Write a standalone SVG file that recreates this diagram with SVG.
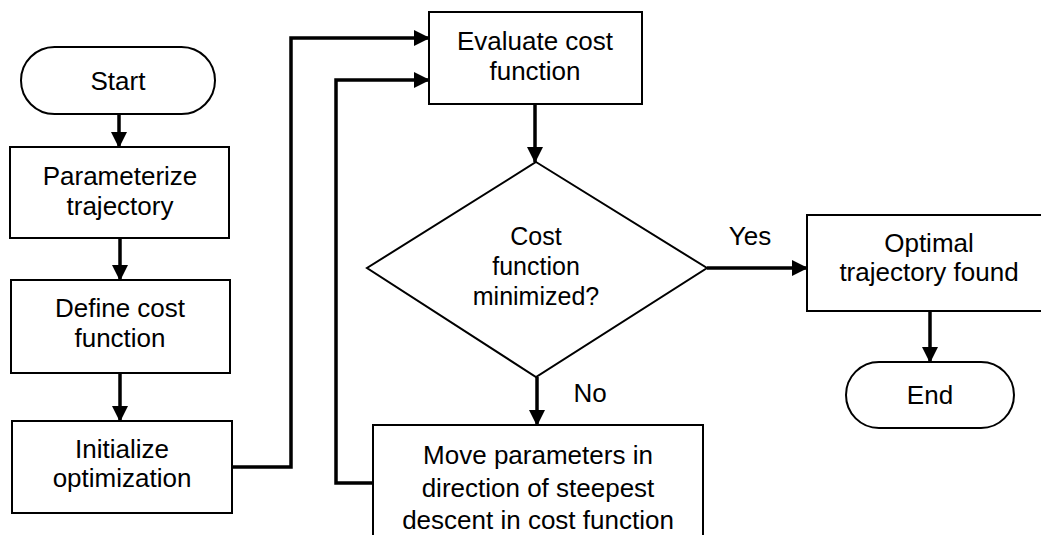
<svg xmlns="http://www.w3.org/2000/svg" width="1041" height="535" viewBox="0 0 1041 535">
<style>
.box{fill:#fff;stroke:#000;stroke-width:2}
.t{font-family:"Liberation Sans",Arial,sans-serif;font-size:26px;fill:#000;text-anchor:middle}
.c{fill:none;stroke:#000;stroke-width:3.5}
</style>
<defs>
<marker id="ah" markerUnits="userSpaceOnUse" markerWidth="16" markerHeight="16" viewBox="0 0 16 16" refX="15" refY="8" orient="auto">
<path d="M0,0 L16,8 L0,16 Z" fill="#000"/>
</marker>
</defs>
<rect width="1041" height="535" fill="#fff"/>
<g id="connectors">
<line class="c" x1="119" y1="114" x2="119" y2="147" marker-end="url(#ah)"/>
<line class="c" x1="120" y1="238" x2="120" y2="280" marker-end="url(#ah)"/>
<line class="c" x1="120" y1="373" x2="120" y2="421" marker-end="url(#ah)"/>
<polyline class="c" points="232,467 291,467 291,38 429,38" marker-end="url(#ah)"/>
<line class="c" x1="535" y1="104" x2="535" y2="162" marker-end="url(#ah)"/>
<line class="c" x1="707" y1="268" x2="807" y2="268" marker-end="url(#ah)"/>
<line class="c" x1="537" y1="377" x2="537" y2="425" marker-end="url(#ah)"/>
<polyline class="c" points="373,483 336,483 336,80 429,80" marker-end="url(#ah)"/>
<line class="c" x1="930" y1="311" x2="930" y2="362" marker-end="url(#ah)"/>
<text class="t" x="750" y="245">Yes</text>
<text class="t" x="590" y="402">No</text>
</g>
<g id="start">
<rect class="box" x="21" y="47" width="194" height="67" rx="33.5"/>
<text class="t" x="118" y="90">Start</text>
</g>
<g id="parameterize">
<rect class="box" x="10" y="147" width="219" height="91"/>
<text class="t" x="120" y="185">Parameterize</text>
<text class="t" x="120" y="215">trajectory</text>
</g>
<g id="define">
<rect class="box" x="11" y="280" width="219" height="93"/>
<text class="t" x="120" y="317">Define cost</text>
<text class="t" x="120" y="347">function</text>
</g>
<g id="initialize">
<rect class="box" x="12" y="421" width="220" height="92"/>
<text class="t" x="122" y="458">Initialize</text>
<text class="t" x="122" y="487">optimization</text>
</g>
<g id="evaluate">
<rect class="box" x="429" y="12" width="213" height="92"/>
<text class="t" x="535" y="50">Evaluate cost</text>
<text class="t" x="535" y="80">function</text>
</g>
<g id="decision">
<polygon class="box" points="536,162 707,268 536,377 367,268"/>
<text class="t" x="536" y="245" style="font-size:25px">Cost</text>
<text class="t" x="536" y="275" style="font-size:25px">function</text>
<text class="t" x="536" y="305" style="font-size:25px">minimized?</text>
</g>
<g id="move">
<rect class="box" x="373" y="425" width="330" height="120"/>
<text class="t" x="538" y="464">Move parameters in</text>
<text class="t" x="538" y="497">direction of steepest</text>
<text class="t" x="538" y="529">descent in cost function</text>
</g>
<g id="optimal">
<rect class="box" x="807" y="215" width="246" height="96"/>
<text class="t" x="929" y="252">Optimal</text>
<text class="t" x="929" y="281">trajectory found</text>
</g>
<g id="end">
<rect class="box" x="846" y="362" width="168" height="66" rx="33"/>
<text class="t" x="930" y="404">End</text>
</g>
</svg>
